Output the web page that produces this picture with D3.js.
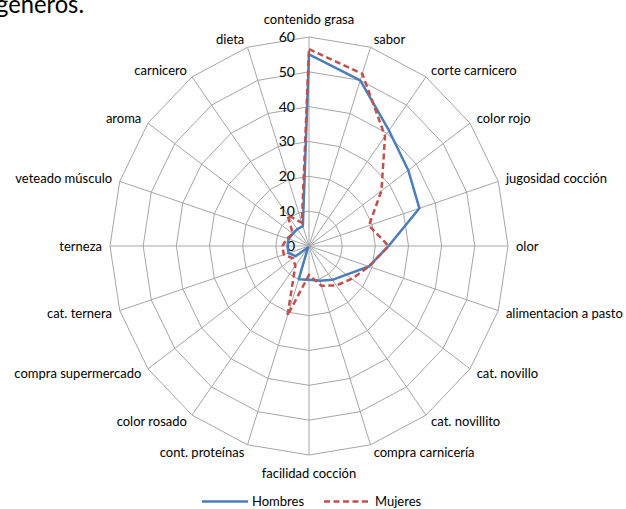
<!DOCTYPE html>
<html><head><meta charset="utf-8">
<script src="https://cdn.jsdelivr.net/npm/d3@7"></script>
<style>
html,body{margin:0;padding:0;background:#fff;}
svg text{font-family:Lato,"Open Sans",sans-serif;fill:#000;}
</style></head>
<body>
<svg id="chart" width="626" height="509"></svg>
<script>
const categories = ["contenido grasa","sabor","corte carnicero","color rojo","jugosidad cocción","olor","alimentacion a pasto","cat. novillo","cat. novillito","compra carnicería","facilidad cocción","cont. proteínas","color rosado","compra supermercado","cat. ternera","terneza","veteado músculo","aroma","carnicero","dieta"];
const hombres = [55, 50, 41, 37, 35, 24, 19, 14, 12, 10.5, 9.7, 10, 0.5, 5, 6.5, 6.5, 6.5, 6, 6, 6];
const mujeres = [56.5, 52, 39, 27, 19, 24, 19, 16, 14, 12, 8.3, 21, 7, 6, 8, 8, 7, 6, 11, 7];
const tickValues = [0,10,20,30,40,50,60];
const seriesNames = ["Hombres","Mujeres"];

const svg = d3.select("#chart");
svg.append("rect").attr("width",626).attr("height",509).attr("fill","#fff");

// cut-off caption text at top (as in the reference)
svg.append("text").attr("x",-4).attr("y",12.5).attr("textLength",88).attr("lengthAdjust","spacingAndGlyphs")
  .style("font-size","25px").text("géneros.");

const cx = 309, cy = 246, rx = 199, ry = 209;
const n = categories.length;
const r = d3.scaleLinear().domain([0,60]).range([0,1]);
const ang = d3.scaleLinear().domain([0,n]).range([0,2*Math.PI]);
const px = (i,v) => cx + rx*r(v)*Math.sin(ang(i));
const py = (i,v) => cy - ry*r(v)*Math.cos(ang(i));

const grid = svg.append("g");
tickValues.filter(t=>t>0).forEach(t=>{
  const pts = d3.range(n).map(i=>[px(i,t),py(i,t)]);
  grid.append("path").attr("d", d3.line()(pts)+"Z")
    .attr("fill","none").attr("stroke","#a6a6a6").attr("stroke-width",1);
});
d3.range(n).forEach(i=>{
  grid.append("line").attr("x1",cx).attr("y1",cy).attr("x2",px(i,60)).attr("y2",py(i,60))
    .attr("stroke","#a6a6a6").attr("stroke-width",1);
});

svg.append("g").selectAll("text").data(tickValues).join("text")
  .attr("x",cx-14).attr("y",t=>py(0,t)).attr("dy","0.35em")
  .attr("text-anchor","end").style("font-size","14px").text(t=>t);

svg.append("g").selectAll("text").data(categories).join("text")
  .each(function(d,i){
    const a = ang(i), s = Math.sin(a), c = Math.cos(a);
    const sel = d3.select(this);
    const vx = px(i,60), vy = py(i,60);
    if (Math.abs(s) < 0.01) {
      sel.attr("x",vx).attr("y", vy + (c>0 ? -18 : 18)).attr("text-anchor","middle");
    } else {
      sel.attr("x", vx + 7*s + (s>0?1:-1)).attr("y", vy - 8*c).attr("text-anchor", s>0 ? "start" : "end");
    }
  })
  .attr("dy","0.35em").style("font-size","13px").text(d=>d);

const line = d3.line().x(d=>px(d.i,d.v)).y(d=>py(d.i,d.v)).curve(d3.curveLinearClosed);
const mk = arr => arr.map((v,i)=>({i,v}));
svg.append("path").attr("d", line(mk(hombres)))
  .attr("fill","none").attr("stroke","#4a7ebb").attr("stroke-width",2.5).attr("stroke-linejoin","round");
svg.append("path").attr("d", line(mk(mujeres)))
  .attr("fill","none").attr("stroke","#c0504d").attr("stroke-width",2.5).attr("stroke-dasharray","6,3.5");

const lg = svg.append("g");
const ly = 501.5;
lg.append("line").attr("x1",202).attr("x2",248).attr("y1",ly).attr("y2",ly)
  .attr("stroke","#4a7ebb").attr("stroke-width",2.5);
lg.append("text").attr("x",252).attr("y",ly).attr("dy","0.35em").style("font-size","13px").text(seriesNames[0]);
lg.append("line").attr("x1",324).attr("x2",371).attr("y1",ly).attr("y2",ly)
  .attr("stroke","#c0504d").attr("stroke-width",2.5).attr("stroke-dasharray","6,3.5");
lg.append("text").attr("x",375).attr("y",ly).attr("dy","0.35em").style("font-size","13px").text(seriesNames[1]);
</script>
</body></html>
